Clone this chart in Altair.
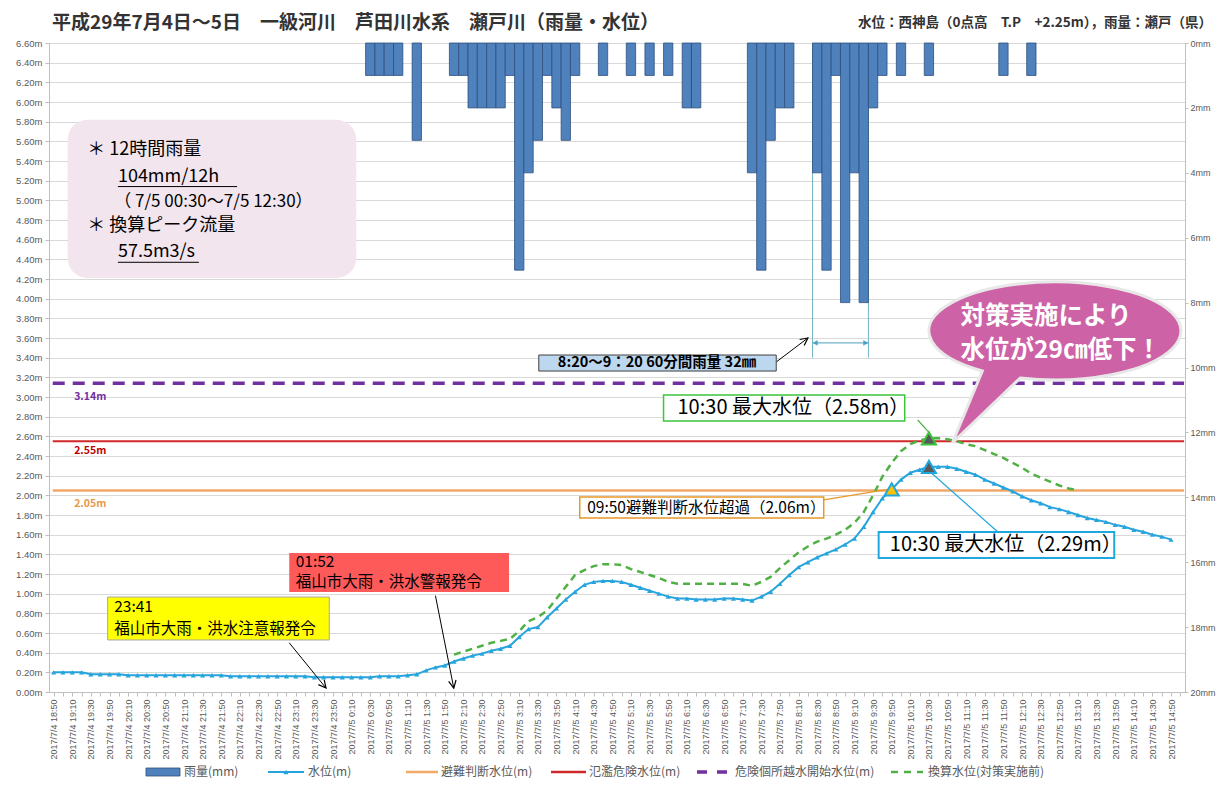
import json
import altair as alt
import pandas as pd

JP = "Noto Sans CJK JP"
LAT = "Liberation Sans"

# ---------------- data ----------------
TIMES = [f"{d.year}/{d.month}/{d.day} {d.hour}:{d.minute:02d}"
         for d in pd.date_range("2017-07-04 18:50", "2017-07-05 15:00", freq="10min")]

# 10-minute rainfall (mm), one value per category
RAIN = [
    0, 0, 0, 0, 0, 0, 0, 0, 0, 0,
    0, 0, 0, 0, 0, 0, 0, 0, 0, 0,
    0, 0, 0, 0, 0, 0, 0, 0, 0, 0,
    0, 0, 0, 0, 1, 1, 1, 1, 0, 3,
    0, 0, 0, 1, 1, 2, 2, 2, 2, 1,
    7, 4, 3, 1, 2, 3, 1, 0, 0, 1,
    0, 0, 1, 0, 1, 0, 1, 0, 2, 2,
    0, 0, 0, 0, 0, 4, 7, 3, 2, 2,
    0, 0, 4, 7, 1, 8, 4, 8, 2, 1,
    0, 1, 0, 0, 1, 0, 0, 0, 0, 0,
    0, 0, 1, 0, 0, 1, 0, 0, 0, 0,
    0, 0, 0, 0, 0, 0, 0, 0, 0, 0,
    0, 0,
]

# water level (m)
LEVEL = [
    0.20, 0.20, 0.20, 0.20, 0.18, 0.18, 0.18, 0.18, 0.17, 0.17,
    0.17, 0.17, 0.17, 0.17, 0.17, 0.17, 0.17, 0.17, 0.17, 0.16,
    0.16, 0.16, 0.16, 0.16, 0.16, 0.16, 0.16, 0.16, 0.15, 0.15,
    0.15, 0.15, 0.15, 0.15, 0.15, 0.16, 0.16, 0.16, 0.17, 0.18,
    0.22, 0.25, 0.27, 0.31, 0.34, 0.37, 0.39, 0.42, 0.44, 0.47,
    0.56, 0.64, 0.66, 0.76, 0.85, 0.94, 1.02, 1.09, 1.12, 1.13,
    1.13, 1.12, 1.09, 1.06, 1.03, 1.00, 0.97, 0.95, 0.95, 0.94,
    0.94, 0.94, 0.95, 0.95, 0.94, 0.93, 0.97, 1.02, 1.10, 1.19,
    1.27, 1.32, 1.37, 1.41, 1.45, 1.50, 1.56, 1.68, 1.83, 1.97,
    2.06, 2.16, 2.23, 2.26, 2.29, 2.29, 2.29, 2.27, 2.24, 2.21,
    2.16, 2.12, 2.08, 2.04, 1.99, 1.95, 1.92, 1.88, 1.86, 1.83,
    1.80, 1.77, 1.75, 1.73, 1.70, 1.68, 1.65, 1.63, 1.60, 1.58,
    1.55, None,
]

# converted water level before countermeasures (m)
CONV = [
    None, None, None, None, None, None, None, None, None, None,
    None, None, None, None, None, None, None, None, None, None,
    None, None, None, None, None, None, None, None, None, None,
    None, None, None, None, None, None, None, None, None, None,
    None, None, None, 0.38, 0.41, 0.44, 0.47, 0.50, 0.52, 0.54,
    0.62, 0.72, 0.76, 0.83, 0.95, 1.07, 1.19, 1.24, 1.28, 1.30,
    1.30, 1.29, 1.25, 1.22, 1.19, 1.16, 1.12, 1.10, 1.10, 1.10,
    1.10, 1.10, 1.10, 1.10, 1.10, 1.08, 1.12, 1.17, 1.26, 1.34,
    1.42, 1.48, 1.53, 1.56, 1.60, 1.65, 1.72, 1.83, 2.00, 2.19,
    2.33, 2.45, 2.52, 2.56, 2.58, 2.58, 2.57, 2.55, 2.52, 2.50,
    2.46, 2.42, 2.38, 2.33, 2.28, 2.22, 2.18, 2.14, 2.10, 2.07,
    2.05, None, None, None, None, None, None, None, None, None,
    None, None,
]

REF_LEVELS = [3.14, 2.55, 2.05]
REF_LABELS = ["3.14m", "2.55m", "2.05m"]
LEGEND_NAMES = ["雨量(mm)", "水位(m)", "避難判断水位(m)", "氾濫危険水位(m)",
                "危険個所越水開始水位(m)", "換算水位(対策実施前)"]
Y_TICKS = [round(0.2 * k, 2) for k in range(34)]
R_TICKS = list(range(0, 21, 2))

N = len(TIMES)
df = pd.DataFrame({"i": list(range(N)), "t": TIMES, "rain": RAIN,
                   "level": LEVEL, "conv": CONV})
df["z"] = 0

# ---------------- styles ----------------
BLUE = "#27a4dd"
GREEN = "#4fb043"
PURPLE = "#7030a0"
RED = "#d0282a"
ORANGE = "#f0a868"
GRAY = "#595959"

XS = alt.Scale(domain=[-0.5, N - 0.5], nice=False, zero=False)
YS = alt.Scale(domain=[0, 6.6], nice=False, zero=False)
RS = alt.Scale(domain=[0, 20], reverse=True, nice=False, zero=False)

ONE = pd.DataFrame({"k": [0]})


def X(f):
    return alt.X(f"{f}:Q", scale=XS, axis=None)


def Y(f):
    return alt.Y(f"{f}:Q", scale=YS, axis=None)


def seg(i0, m0, i1, m1, color, w=1.0, dash=None):
    mk = dict(color=color, strokeWidth=w)
    if dash:
        mk["strokeDash"] = dash
    d = pd.DataFrame({"i0": [i0], "m0": [m0], "i1": [i1], "m1": [m1]})
    return alt.Chart(d).mark_rule(**mk).encode(x=X("i0"), y=Y("m0"), x2="i1:Q", y2="m1:Q")


def box(i0, i1, m0, m1, fill, stroke=None, w=1.0, r=0):
    mk = dict(fill=fill, cornerRadius=r, opacity=1)
    if stroke:
        mk.update(stroke=stroke, strokeWidth=w)
    else:
        mk.update(strokeWidth=0)
    d = pd.DataFrame({"i0": [i0], "m0": [m0], "i1": [i1], "m1": [m1]})
    return alt.Chart(d).mark_rect(**mk).encode(x=X("i0"), x2="i1:Q", y=Y("m0"), y2="m1:Q")


def txt(s, i, m, size, color="#000000", weight="normal", align="left"):
    d = pd.DataFrame({"i": [i], "m": [m], "s": [s]})
    return alt.Chart(d).mark_text(align=align, baseline="middle", fontSize=size, color=color,
                                  fontWeight=weight, font=JP).encode(x=X("i"), y=Y("m"), text="s:N")


def pt(i, m, shape, size, fill, stroke, w=1.0, angle=0, filled=True):
    mk = dict(shape=shape, size=size, strokeWidth=w, angle=angle, opacity=1)
    if filled:
        mk.update(filled=True, fill=fill, stroke=stroke)
    else:
        mk.update(filled=False, stroke=stroke)
    d = pd.DataFrame({"i": [i], "m": [m]})
    return alt.Chart(d).mark_point(**mk).encode(x=X("i"), y=Y("m"))


VHEAD = "M -0.5 -1 L 0 0 L 0.5 -1"


def vtext(s, x, y, size, color, weight="normal", align="left"):
    return alt.Chart(ONE).mark_text(text=s, align=align, baseline="middle", fontSize=size,
                                    color=color, fontWeight=weight, font=JP).encode(
        x=alt.value(x), y=alt.value(y))


def vrule(x0, x1, y, color, w, dash=None):
    mk = dict(color=color, strokeWidth=w)
    if dash:
        mk["strokeDash"] = dash
    return alt.Chart(ONE).mark_rule(**mk).encode(x=alt.value(x0), x2=alt.value(x1), y=alt.value(y))


# ---------------- axes ----------------
LABEL_EXPR = "datum.value % 2 == 0 ? " + json.dumps(TIMES, ensure_ascii=False) + "[datum.value] : ''"

x_axis = alt.Axis(values=list(range(N)), labelExpr=LABEL_EXPR, labelAngle=-90, labelFontSize=9,
                  labelColor=GRAY, labelFont=LAT, tickColor="#bfbfbf", tickSize=4,
                  domainColor="#bfbfbf", grid=False, title=None, labelPadding=3,
                  labelOverlap=False, labelFlush=False)
y_axis = alt.Axis(values=Y_TICKS, labelExpr="format(datum.value, '.2f') + 'm'", labelFontSize=9.5,
                  labelColor=GRAY, labelFont=LAT, grid=True, gridColor="#d9d9d9", gridWidth=1,
                  domainColor="#bfbfbf", tickColor="#bfbfbf", tickSize=4, labelPadding=3,
                  title=None, labelOverlap=False)
r_axis = alt.Axis(orient="right", values=R_TICKS, labelExpr="datum.value + 'mm'", labelFontSize=9,
                  labelColor=GRAY, labelFont=LAT, grid=False, domainColor="#bfbfbf",
                  tickColor="#bfbfbf", tickSize=3, labelPadding=2, title=None)

# ---------------- layers ----------------
# invisible layer that carries the x axis and the left (water level) axis
axis_carrier = alt.Chart(df).mark_line(opacity=0).encode(
    x=alt.X("i:Q", scale=XS, axis=x_axis), y=alt.Y("level:Q", scale=YS, axis=y_axis))

bars = alt.Chart(df).transform_filter("datum.rain > 0").transform_calculate(
    x0="datum.i - 0.5", x1="datum.i + 0.5").mark_rect(
    fill="#4f81bd", stroke="#2d4f7c", strokeWidth=0.8).encode(
    x=alt.X("x0:Q", scale=XS, axis=None), x2="x1:Q",
    y=alt.Y("rain:Q", scale=RS, axis=r_axis), y2="z:Q")

refs = [
    seg(-0.1, REF_LEVELS[0], N - 0.6, REF_LEVELS[0], PURPLE, 3.5, [12, 8]),
    seg(-0.1, REF_LEVELS[1], N - 0.6, REF_LEVELS[1], RED, 2),
    seg(-0.1, REF_LEVELS[2], N - 0.6, REF_LEVELS[2], ORANGE, 2.5),
    txt(REF_LABELS[0], 2.2, 3.00, 10.5, PURPLE, "bold"),
    txt(REF_LABELS[1], 2.2, 2.45, 10.5, "#c00000", "bold"),
    txt(REF_LABELS[2], 2.2, 1.91, 10.5, "#e8984a", "bold"),
]

conv_line = alt.Chart(df).mark_line(color=GREEN, strokeWidth=2.5, strokeDash=[7, 5]).encode(
    x=X("i"), y=Y("conv"))

level_line = alt.Chart(df).mark_line(
    color=BLUE, strokeWidth=2,
    point=alt.OverlayMarkDef(shape="triangle-up", size=26, filled=True, color=BLUE)).encode(
    x=X("i"), y=Y("level"))

BUBBLE = ("M -0.579 0.317 L -0.817 0.889 L -0.278 0.373 "
          "A 1 0.389 0 1 0 -0.579 0.317 Z")

notes = [
    # 12-hour rainfall box
    box(1.5, 32.5, 5.82, 4.21, "#f3e5ee", r=20),
    txt("＊ 12時間雨量", 3.6, 5.51, 18),
    txt("104mm/12h", 6.9, 5.24, 18),
    seg(6.9, 5.14, 19.7, 5.14, "#000000", 1),
    txt("（ 7/5 00:30～7/5 12:30）", 6.5, 4.985, 17),
    txt("＊ 換算ピーク流量", 3.6, 4.74, 18),
    txt("57.5m3/s", 6.9, 4.47, 18),
    seg(6.9, 4.37, 15.6, 4.37, "#000000", 1),
    # yellow warning box
    seg(25.3, 0.50, 29.25, 0.04, "#000000", 1),
    pt(29.25, 0.04, VHEAD, 225, None, "#000000", 1.2, 321, filled=False),
    box(5.8, 29.6, 0.966, 0.529, "#ffff00", "#a6a6a6", 1),
    txt("23:41", 6.5, 0.86, 15.5),
    txt("福山市大雨・洪水注意報発令", 6.5, 0.64, 15.5),
    # red warning box
    seg(41.0, 0.98, 42.97, 0.04, "#000000", 1),
    pt(42.97, 0.04, VHEAD, 225, None, "#000000", 1.2, 349, filled=False),
    box(25.3, 48.9, 1.414, 1.017, "#ff5a5a"),
    txt("01:52", 26.0, 1.32, 15.5),
    txt("福山市大雨・洪水警報発令", 26.0, 1.12, 15.5),
    # 60-minute rainfall bracket
    seg(81.5, 6.6, 81.5, 3.40, "#72b5c6", 1),
    seg(87.5, 6.6, 87.5, 3.40, "#72b5c6", 1),
    seg(81.5, 3.55, 87.5, 3.55, "#4a9fc0", 1),
    pt(81.8, 3.55, "triangle-left", 22, "#4a9fc0", "#4a9fc0", 0.5),
    pt(87.2, 3.55, "triangle-right", 22, "#4a9fc0", "#4a9fc0", 0.5),
    seg(77.6, 3.356, 81.0, 3.60, "#000000", 1),
    pt(81.0, 3.60, VHEAD, 225, None, "#000000", 1.2, 233, filled=False),
    box(52.1, 77.6, 3.427, 3.264, "#bdd7ee", "#404040", 1),
    txt("8:20～9：20 60分間雨量 32㎜", 64.8, 3.346, 14.5, "#000000", "bold", "center"),
    # max level (before measures)
    seg(92.8, 2.766, 94.0, 2.64, GREEN, 1.2),
    box(65.5, 91.4, 3.02, 2.756, "#ffffff", "#3cc43c", 1.5),
    txt("10:30 最大水位（2.58m）", 67.0, 2.888, 20),
    pt(94, 2.58, "triangle-up", 200, "#595959", "#3cc43c", 2),
    # warning level crossing
    seg(82.7, 1.953, 89.6, 2.06, "#e8982a", 1.2),
    box(56.5, 82.7, 1.983, 1.77, "#ffffff", "#e8982a", 1.5),
    txt("09:50避難判断水位超過（2.06m）", 57.3, 1.876, 15.5),
    pt(90, 2.06, "triangle-up", 200, "#ffc000", "#1fa8e0", 2),
    # max level (measured)
    seg(101.4, 1.627, 94.0, 2.25, "#1fa8e0", 1.2),
    box(88.6, 113.9, 1.627, 1.363, "#ffffff", "#1fa8e0", 2),
    txt("10:30 最大水位（2.29m）", 89.8, 1.495, 20),
    pt(94, 2.29, "triangle-up", 200, "#595959", "#1fa8e0", 2),
    # speech bubble
    pt(107.57, 3.671, BUBBLE, 63504, "#cd63a6", "#e8e8e8", 3),
    txt("対策実施により", 97.4, 3.81, 24.5, "#ffffff", "bold"),
    txt("水位が29㎝低下！", 97.4, 3.47, 24.5, "#ffffff", "bold"),
]

# title and legend (layout in plot pixels)
LY = 729
frame = [
    vtext("平成29年7月4日～5日　一級河川　芦田川水系　瀬戸川（雨量・水位）", 3, -20, 19, "#333333", "bold"),
    vtext("水位：西神島（0点高　T.P　+2.25m），雨量：瀬戸（県）", 1163, -20, 13.5, "#333333", "bold", "right"),
    alt.Chart(ONE).mark_rect(fill="#4f81bd", stroke="#2d4f7c", strokeWidth=0.8).encode(
        x=alt.value(97), x2=alt.value(131), y=alt.value(LY - 4), y2=alt.value(LY + 4)),
    vtext(LEGEND_NAMES[0], 135, LY, 12, GRAY),
    vrule(219, 255, LY, BLUE, 2),
    alt.Chart(ONE).mark_point(shape="triangle-up", size=26, filled=True, color=BLUE, opacity=1).encode(
        x=alt.value(237), y=alt.value(LY)),
    vtext(LEGEND_NAMES[1], 259, LY, 12, GRAY),
    vrule(357, 389, LY, ORANGE, 2.5),
    vtext(LEGEND_NAMES[2], 392, LY, 12, GRAY),
    vrule(502, 537, LY, RED, 2.5),
    vtext(LEGEND_NAMES[3], 540, LY, 12, GRAY),
    vrule(648, 682, LY, PURPLE, 3.5, [10, 10]),
    vtext(LEGEND_NAMES[4], 686, LY, 12, GRAY),
    vrule(842, 874, LY, GREEN, 2.5, [7, 6]),
    vtext(LEGEND_NAMES[5], 879, LY, 12, GRAY),
]

chart = alt.layer(axis_carrier, *refs, conv_line, level_line, *notes, *frame, bars).resolve_scale(
    x="independent", y="independent").properties(
    width=1136, height=649,
    padding={"left": 41, "top": 35, "right": 33, "bottom": 86},
    autosize=alt.AutoSizeParams(type="none"),
    background="#ffffff",
).configure_view(stroke=None)

chart.save("out.html", embed_options={"renderer": "svg", "actions": False})
